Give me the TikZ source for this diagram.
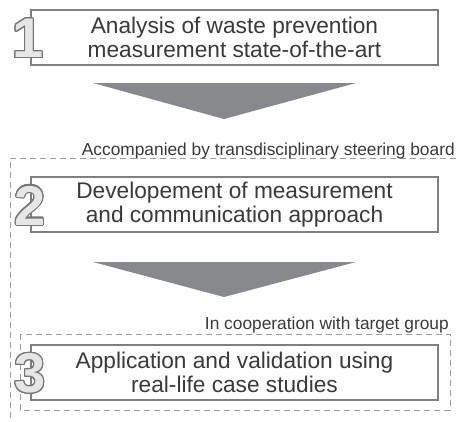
\documentclass[tikz,border=0pt]{standalone}
\usepackage{fontspec}
\setmainfont{Liberation Sans}
\usepackage{contour}
\contourlength{0.8pt}
\contournumber{24}
\definecolor{boxedge}{HTML}{7F7F7F}
\definecolor{txtgray}{HTML}{3A3A3A}
\definecolor{arrowgray}{HTML}{88898D}
\definecolor{dashgray}{HTML}{9C9C9C}
\definecolor{numedge}{HTML}{767676}
\definecolor{numfill}{HTML}{E6E6E6}
\tikzset{
  stepbox/.style={draw=boxedge,line width=1.1pt,fill=white,minimum width=305.25pt,minimum height=41.25pt,
    inner sep=0pt,align=center,text=txtgray,font=\fontsize{17}{18.5}\selectfont},
  numlabel/.style={inner sep=0pt,text=numfill,font=\fontsize{42}{42}\selectfont\bfseries},
  sidenote/.style={inner sep=0pt,text=txtgray,font=\fontsize{13}{14}\selectfont},
  bigarrow/.style={fill=arrowgray,draw=none},
  dashedframe/.style={draw=dashgray,line width=0.7pt,dash pattern=on 4.5pt off 3pt}
}
\begin{document}
\begin{tikzpicture}[x=0.75pt,y=0.75pt,yscale=-1,xscale=1]
\useasboundingbox (0,0) rectangle (456,421);

%Dashed frame: steering board
\draw[dashedframe] (456,158) -- (10,158) -- (10,421) ;
%Dashed frame: target group
\draw[dashedframe] (20,334) rectangle (450,410) ;

%Step boxes
\node[stepbox] (s1) at (234.5,37.5) {Analysis of waste prevention\\measurement state-of-the-art};
\node[stepbox] (s2) at (234.5,204.5) {Developement of measurement\\and communication approach};
\node[stepbox] (s3) at (234.5,372.5) {Application and validation using\\real-life case studies};

%Step numbers
\node[numlabel] (n1) at (28,39) {\contour{numedge}{1}};
\node[numlabel] (n2) at (30,206) {\contour{numedge}{2}};
\node[numlabel] (n3) at (30,374) {\contour{numedge}{3}};

%Arrows
\fill[bigarrow] (93,83) -- (356,83) -- (224,119) -- cycle ;
\fill[bigarrow] (93,262) -- (356,262) -- (224,297) -- cycle ;

% Text Node
\node[sidenote,anchor=base east] (board) at (455,155) {Accompanied by transdisciplinary steering board};
% Text Node
\node[sidenote,anchor=base east] (group) at (449,329) {In cooperation with target group};

\end{tikzpicture}
\end{document}
